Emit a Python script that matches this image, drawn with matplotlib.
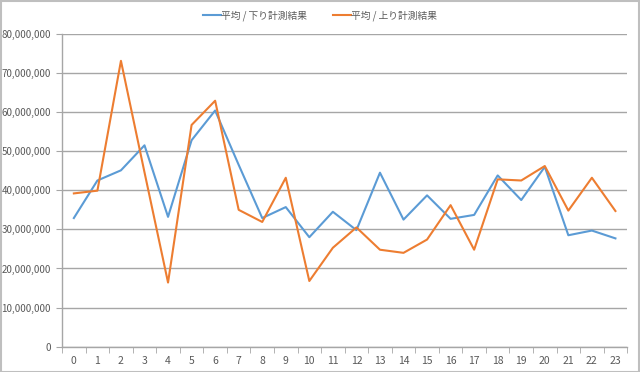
import numpy as np
import matplotlib
matplotlib.use('Agg')
import matplotlib.pyplot as plt
from matplotlib.ticker import FuncFormatter, FixedLocator
from matplotlib.patches import Rectangle

plt.rcParams['font.family'] = ['Noto Sans CJK JP', 'DejaVu Sans']

# hours 0..23
hours = list(range(24))
down_avg = [32.9, 42.5, 45.1, 51.5, 33.2, 52.8, 60.4, 46.5, 32.9, 35.7, 28.0, 34.5,
            29.8, 44.5, 32.5, 38.7, 32.7, 33.7, 43.8, 37.5, 46.0, 28.5, 29.7, 27.7]
up_avg = [39.2, 39.9, 73.1, 44.6, 16.4, 56.7, 62.9, 35.0, 31.9, 43.2, 16.8, 25.3,
          30.5, 24.8, 24.0, 27.4, 36.2, 24.8, 42.8, 42.5, 46.2, 34.8, 43.2, 34.7]
labels = ['平均 / 下り計測結果', '平均 / 上り計測結果']
y_ticks = [0, 10, 20, 30, 40, 50, 60, 70, 80]

down = np.array(down_avg) * 1e6
up = np.array(up_avg) * 1e6
txt_col = '#595959'
grid_col = '#a6a6a6'

fig = plt.figure(figsize=(6.4, 3.72), dpi=100)
ax = fig.add_axes([0.097, 0.068, 0.883, 0.841])

ax.plot(hours, down, color='#5b9bd5', lw=1.5, label=labels[0])
ax.plot(hours, up, color='#ed7d31', lw=1.5, label=labels[1])

ax.set_xlim(-0.5, 23.5)
ax.set_ylim(0, 80e6)
ax.set_yticks([v * 1e6 for v in y_ticks])
ax.yaxis.set_major_formatter(FuncFormatter(lambda v, p: f'{int(v):,}'))
ax.set_xticks(hours)
ax.set_xticklabels([str(h) for h in hours])
ax.xaxis.set_minor_locator(FixedLocator(np.arange(-0.5, 24, 1)))
ax.tick_params(axis='x', which='major', length=0, pad=7, labelsize=7.5, labelcolor=txt_col)
ax.tick_params(axis='x', which='minor', length=4, color=grid_col, direction='out')
ax.tick_params(axis='y', length=4, color=grid_col, labelsize=7, labelcolor=txt_col, pad=4)

ax.grid(axis='y', color=grid_col, lw=1)
ax.set_axisbelow(True)
for s in ['top', 'right']:
    ax.spines[s].set_visible(False)
for s in ['left', 'bottom']:
    ax.spines[s].set_color(grid_col)
    ax.spines[s].set_linewidth(1)

fig.legend(loc='center', bbox_to_anchor=(0.5, 0.958), ncol=2, frameon=False,
           fontsize=7, labelcolor=txt_col, handlelength=1.85, columnspacing=2.6, handletextpad=0.05)

fig.patches.append(Rectangle((0.001, 0.001), 0.997, 0.996, transform=fig.transFigure,
                             fill=False, edgecolor='#bfbfbf', lw=1.5))

fig.savefig('out.png', dpi=100)
